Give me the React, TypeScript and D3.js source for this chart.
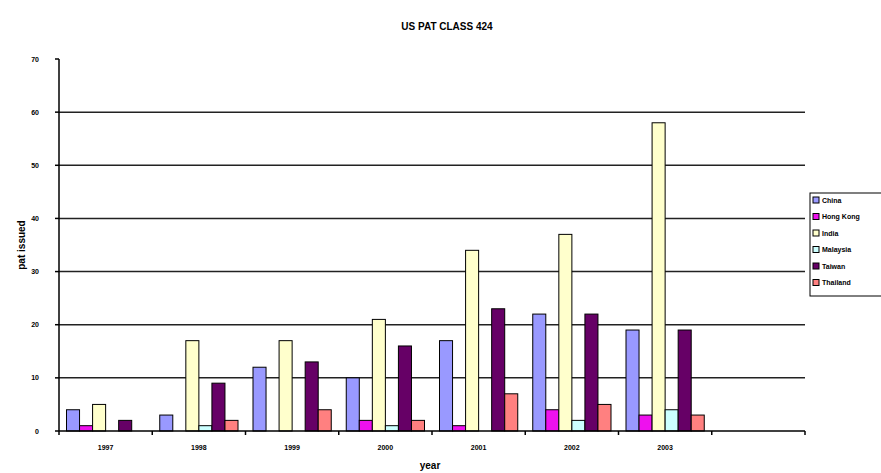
import React from 'react';
import * as d3 from 'd3';

const years = ['1997', '1998', '1999', '2000', '2001', '2002', '2003', ''];
const countries = ['China', 'Hong Kong', 'India', 'Malaysia', 'Taiwan', 'Thailand'];
const colors = ['#9999FF', '#EE11EE', '#FFFFCC', '#CCFFFF', '#660066', '#FF8080'];

const china = [4, 3, 12, 10, 17, 22, 19];
const hongKong = [1, 0, 0, 2, 1, 4, 3];
const india = [5, 17, 17, 21, 34, 37, 58];
const malaysia = [0, 1, 0, 1, 0, 2, 4];
const taiwan = [2, 9, 13, 16, 23, 22, 19];
const thailand = [0, 2, 4, 2, 7, 5, 3];

const series = [china, hongKong, india, malaysia, taiwan, thailand];
const yTicks = [0, 10, 20, 30, 40, 50, 60, 70];

const W = 881;
const H = 473;
const left = 59, right = 805, top = 59, bottom = 431;
const font = '"Liberation Sans", Arial, sans-serif';

export default function App() {
    const x = d3.scaleBand().domain(years).range([left, right]).padding(0);
    const bw = x.bandwidth();
    const xInner = d3.scaleBand().domain(countries).range([7.5, bw - 7.5]).padding(0);
    const y = d3.scaleLinear().domain([0, 70]).range([bottom, top]);

    const bars = series.map((vals, si) =>
        vals.map((v, i) => {
            if (v <= 0) return null;
            const bx = (x(years[i]) as number) + (xInner(countries[si]) as number);
            return (
                <rect key={`${si}-${i}`} x={bx} y={y(v)} width={xInner.bandwidth()}
                    height={y(0) - y(v)} fill={colors[si]} stroke="#000" strokeWidth={1} />
            );
        })
    );

    const boundaries = years.map(d => x(d) as number).concat([right]);

    return (
        <svg width={W} height={H} style={{ position: 'absolute', left: 0, top: 0, background: '#fff' }}>
            <text x={447} y={30} textAnchor="middle" fontFamily={font} fontWeight="bold" fontSize={10}>US PAT CLASS 424</text>

            {yTicks.filter(t => t > 0 && t < 70).map(t => (
                <line key={t} x1={left} x2={right} y1={y(t)} y2={y(t)} stroke="#222" strokeWidth={1.5} />
            ))}

            {bars}

            <line x1={left} x2={left} y1={top} y2={bottom} stroke="#000" strokeWidth={1.5} />
            <line x1={left} x2={right} y1={bottom} y2={bottom} stroke="#000" strokeWidth={1.5} />
            {yTicks.map(t => (
                <g key={t}>
                    <line x1={left - 4} x2={left} y1={y(t)} y2={y(t)} stroke="#000" strokeWidth={1.5} />
                    <text x={39} y={y(t) + 2.5} textAnchor="end" fontFamily={font} fontWeight="bold" fontSize={7}>{t}</text>
                </g>
            ))}
            {boundaries.map((b, i) => (
                <line key={i} x1={b} x2={b} y1={bottom} y2={bottom + 4} stroke="#000" strokeWidth={1.5} />
            ))}
            {years.map(d => (
                <text key={d} x={(x(d) as number) + bw / 2} y={450} textAnchor="middle" fontFamily={font} fontWeight="bold" fontSize={7}>{d}</text>
            ))}

            <text x={430} y={469} textAnchor="middle" fontFamily={font} fontWeight="bold" fontSize={10}>year</text>
            <text transform={`translate(25, 245) rotate(-90)`} textAnchor="middle" fontFamily={font} fontWeight="bold" fontSize={10}>pat issued</text>

            <rect x={810} y={193} width={80} height={103} fill="#fff" stroke="#000" strokeWidth={1} />
            {countries.map((c, i) => (
                <g key={c} transform={`translate(813, ${200 + i * 16.5})`}>
                    <rect x={0} y={-3} width={6} height={6} fill={colors[i]} stroke="#000" strokeWidth={1} />
                    <text x={9} y={2.5} fontFamily={font} fontWeight="bold" fontSize={7}>{c}</text>
                </g>
            ))}
        </svg>
    );
}
